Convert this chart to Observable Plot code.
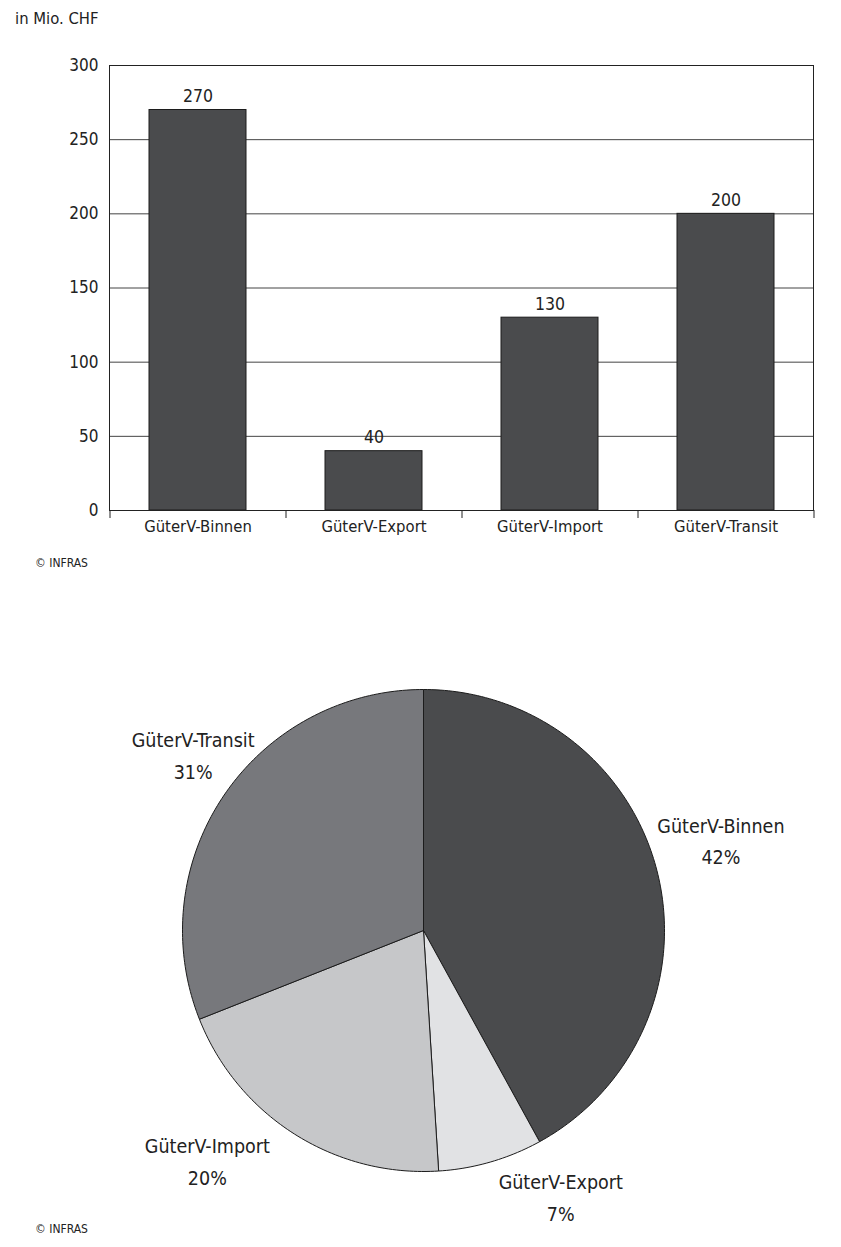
<!DOCTYPE html>
<html>
<head>
<meta charset="utf-8">
<script src="https://cdn.jsdelivr.net/npm/d3@7"></script>
<script src="https://cdn.jsdelivr.net/npm/@observablehq/plot@0.6"></script>
<style>
  html, body { margin: 0; padding: 0; background: #fff; }
  #wrap { position: relative; width: 841px; height: 1247px; overflow: hidden;
    font-family: "DejaVu Sans Condensed", "Liberation Sans", sans-serif; color: #222; }
  .abs { position: absolute; line-height: 1; white-space: nowrap; }
  #title { left: 15px; top: 11px; font-size: 16.5px; }
  #cap1 { left: 35px; top: 557px; font-size: 12px; }
  #cap2 { left: 35px; top: 1223px; font-size: 12px; }
  #bar { left: 0; top: 0; }
  #pie { left: 0; top: 600px; }
</style>
</head>
<body>
<div id="wrap">
  <div id="bar" class="abs"></div>
  <div id="pie" class="abs"></div>
  <div id="title" class="abs">in Mio. CHF</div>
  <div id="cap1" class="abs">© INFRAS</div>
  <div id="cap2" class="abs">© INFRAS</div>
</div>
<script>
// ---- data ----
const categories = ["GüterV-Binnen", "GüterV-Export", "GüterV-Import", "GüterV-Transit"];
const barValues = [270, 40, 130, 200];
const yTicks = [0, 50, 100, 150, 200, 250, 300];
const pieShares = [42, 7, 20, 31];           // percent, as labelled
const pieColors = ["#4a4b4d", "#e1e2e4", "#c6c7c9", "#77787c"];
const labelNudge = [[64, -32], [70, 33], [-87, 25], [-31, -42]]; // label offsets (px) from slice edge

const font = '"DejaVu Sans Condensed", "Liberation Sans", sans-serif';

// ---- bar chart ----
const W = 841, mL = 109, mR = 28, mT = 65, mB = 37, H = 547;
const step = (W - mL - mR) / categories.length;
const barData = categories.map((c, i) => ({cat: c, value: barValues[i]}));

const bar = Plot.plot({
  width: W, height: H,
  marginLeft: mL, marginRight: mR, marginTop: mT, marginBottom: mB,
  style: {fontFamily: font, fontSize: "17px", color: "#222", background: "transparent", overflow: "visible"},
  x: {domain: categories, padding: 0.45, paddingOuter: 0.225, align: 0.5},
  y: {domain: [0, 300]},
  marks: [
    Plot.ruleY(yTicks.filter(t => t > 0 && t < 300), {stroke: "#444", strokeWidth: 1}),
    Plot.barY(barData, {x: "cat", y: "value", fill: "#4a4b4d", stroke: "#1c1c1c", strokeWidth: 1}),
    Plot.text(barData, {x: "cat", y: "value", text: d => String(d.value), lineAnchor: "bottom", dy: -8, fill: "#222", fontSize: 17.5}),
    Plot.ruleX(categories, {x: d => d, y1: 0, y2: 0, insetBottom: -8, dx: -step / 2, stroke: "#222"}),
    Plot.ruleX([categories[categories.length - 1]], {x: d => d, y1: 0, y2: 0, insetBottom: -8, dx: step / 2, stroke: "#222"}),
    Plot.frame({stroke: "#222", strokeWidth: 1}),
    Plot.axisY(yTicks, {tickSize: 0, tickPadding: 11, fontSize: 17, fill: "#222", label: null}),
    Plot.axisX({tickSize: 0, tickPadding: 10, fontSize: 16.5, fill: "#222", label: null})
  ]
});
document.getElementById("bar").appendChild(bar);

// ---- pie chart ----
const total = d3.sum(pieShares);
let acc = 0;
const slices = categories.map((c, i) => {
  const a0 = acc / total * 2 * Math.PI;
  acc += pieShares[i];
  const a1 = acc / total * 2 * Math.PI;
  return {cat: c, share: pieShares[i], a0, a1, mid: (a0 + a1) / 2};
});
const piePts = [];
slices.forEach(s => {
  piePts.push({cat: s.cat, x: 0, y: 0});
  const n = Math.max(8, Math.ceil((s.a1 - s.a0) / (Math.PI / 180)));
  for (let k = 0; k <= n; k++) {
    const a = s.a0 + (s.a1 - s.a0) * k / n;
    piePts.push({cat: s.cat, x: Math.sin(a), y: Math.cos(a)});
  }
  piePts.push({cat: s.cat, x: 0, y: 0});
});

const R = 241, cx = 423, cy = 330, PW = 841, PH = 640;
const pie = Plot.plot({
  width: PW, height: PH,
  marginLeft: cx - R, marginRight: PW - cx - R, marginTop: cy - R, marginBottom: PH - cy - R,
  style: {fontFamily: font, background: "transparent", overflow: "visible"},
  x: {domain: [-1, 1], axis: null},
  y: {domain: [-1, 1], axis: null},
  color: {domain: categories, range: pieColors},
  marks: [
    Plot.line(piePts, {x: "x", y: "y", z: "cat", fill: "cat", stroke: "#1c1c1c", strokeWidth: 1, strokeLinejoin: "round", curve: "linear"}),
    ...slices.map((s, i) => Plot.text([s], {
      x: d => Math.sin(d.mid), y: d => Math.cos(d.mid),
      text: d => `${d.cat}\n${d.share}%`,
      dx: labelNudge[i][0], dy: labelNudge[i][1],
      lineAnchor: "middle", textAnchor: "middle", lineHeight: 1.6,
      fontSize: 19.5, fill: "#222"
    }))
  ]
});
document.getElementById("pie").appendChild(pie);
</script>
</body>
</html>
